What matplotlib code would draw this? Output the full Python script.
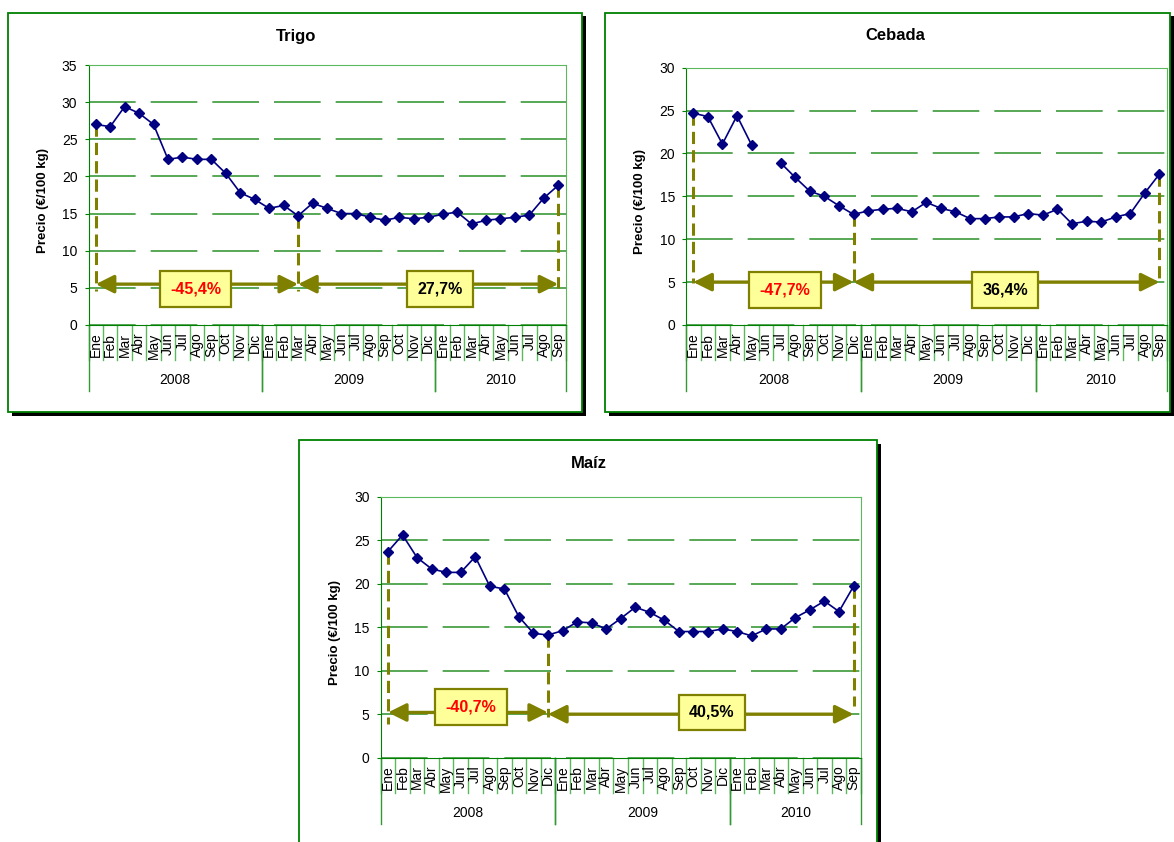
import numpy as np
import matplotlib
matplotlib.use('Agg')
import matplotlib.pyplot as plt
import matplotlib.transforms as mtransforms
from matplotlib.patches import Rectangle

plt.rcParams['font.family'] = ['Liberation Sans', 'DejaVu Sans']

W, H = 1174, 842

MESES  = ['Ene', 'Feb', 'Mar', 'Abr', 'May', 'Jun', 'Jul', 'Ago', 'Sep', 'Oct', 'Nov', 'Dic']
MONTHS = MESES * 2 + MESES[:9]
YEARS  = ['2008', '2009', '2010']
YEAR_SPAN = [(0, 11), (12, 23), (24, 32)]

trigo  = [27.0, 26.7, 29.4, 28.5, 27.0, 22.3, 22.6, 22.3, 22.3, 20.4, 17.8, 16.9,
          15.7, 16.1, 14.7, 16.4, 15.7, 15.0, 15.0, 14.5, 14.1, 14.5, 14.3, 14.5,
          14.9, 15.2, 13.6, 14.1, 14.3, 14.5, 14.8, 17.1, 18.8]
cebada = [24.7, 24.3, 21.1, 24.4, 21.0, np.nan, 18.9, 17.2, 15.6, 15.0, 13.9, 12.9,
          13.3, 13.5, 13.6, 13.2, 14.3, 13.6, 13.2, 12.4, 12.4, 12.6, 12.6, 13.0,
          12.8, 13.5, 11.8, 12.1, 12.0, 12.6, 13.0, 15.4, 17.6]
maiz   = [23.7, 25.6, 23.0, 21.7, 21.3, 21.3, 23.1, 19.7, 19.4, 16.2, 14.3, 14.1,
          14.6, 15.6, 15.5, 14.8, 16.0, 17.3, 16.7, 15.8, 14.5, 14.5, 14.5, 14.8,
          14.5, 14.0, 14.8, 14.8, 16.1, 17.0, 18.0, 16.8, 19.7]

GREEN  = '#008000'
LGREEN = '#5cb85c'
OLIVE  = '#808000'
NAVY   = '#000080'


def px_rect(x0, y0, x1, y1):
    return [x0 / W, 1 - y1 / H, (x1 - x0) / W, (y1 - y0) / H]


fig = plt.figure(figsize=(W / 100, H / 100), dpi=100)


def panel(frame, axbox, title_xy, title, values, ymax, vlines, arrows, boxes):
    # frame with shadow
    fx0, fy0, fx1, fy1 = frame
    sh = px_rect(fx0 + 4, fy0 + 4, fx1 + 4, fy1 + 4)
    fig.patches.append(Rectangle((sh[0], sh[1]), sh[2], sh[3], transform=fig.transFigure,
                                 fc='black', ec='none', zorder=-3))
    fr = px_rect(*frame)
    fig.patches.append(Rectangle((fr[0], fr[1]), fr[2], fr[3], transform=fig.transFigure,
                                 fc='white', ec=GREEN, lw=1.3, zorder=-2))
    fig.text(title_xy[0] / W, 1 - title_xy[1] / H, title, ha='center', va='center',
             fontsize=12, fontweight='bold')

    ax = fig.add_axes(px_rect(*axbox))
    hpx = axbox[3] - axbox[1]
    x = np.arange(len(values))
    ax.plot(x, values, color=NAVY, lw=1.2, marker='D', ms=5, zorder=5, clip_on=False)
    ax.set_xlim(-0.5, len(values) - 0.5)
    ax.set_ylim(0, ymax)
    ax.set_yticks(np.arange(0, ymax + 1, 5))
    ax.set_xticks([])
    ax.grid(axis='y', color='#3a9a3a', lw=1.2, linestyle=(0, (28, 9)))
    ax.set_axisbelow(True)
    for s in ['left', 'bottom']:
        ax.spines[s].set_color(GREEN)
    for s in ['top', 'right']:
        ax.spines[s].set_color(LGREEN)
    ax.tick_params(axis='y', direction='out', length=3, color=GREEN, labelsize=10, pad=5)
    ax.text(-0.096, 0.48, 'Precio (€/100 kg)', transform=ax.transAxes, rotation=90,
            ha='center', va='center', fontsize=9.5, fontweight='bold')

    tr = mtransforms.blended_transform_factory(ax.transData, ax.transAxes)
    for i, m in enumerate(MONTHS):
        ax.annotate(m, xy=(i, 0), xycoords=tr, xytext=(0, -5.5), textcoords='offset points',
                    rotation=90, ha='center', va='top', fontsize=10)
    for i in range(len(values) + 1):
        ax.plot([i - 0.5, i - 0.5], [0, -35 / hpx], transform=tr, color=LGREEN, lw=1,
                clip_on=False)
    for (a, b), yr in zip(YEAR_SPAN, YEARS):
        ax.text((a + b) / 2, -55 / hpx, yr, transform=tr, ha='center', va='center', fontsize=10)
        for e in (a - 0.5, b + 0.5):
            ax.plot([e, e], [0, -66 / hpx], transform=tr, color='#339933', lw=1, clip_on=False)

    for i, yb in vlines:
        ax.plot([i, i], [values[i], yb], color=OLIVE, lw=2.2, linestyle=(0, (4, 2)), zorder=4)
    for i0, i1, ya in arrows:
        ax.annotate('', xy=(i1, ya), xytext=(i0, ya),
                    arrowprops=dict(arrowstyle='<|-|>,head_length=1.1,head_width=0.55',
                                    color=OLIVE, lw=2.4, shrinkA=0, shrinkB=0,
                                    mutation_scale=10), zorder=6)
    for bx, by, txt, col in boxes:
        ax.text(bx, by, txt, ha='center', va='center', fontsize=11.5, fontweight='bold', color=col,
                zorder=7, bbox=dict(boxstyle='square,pad=0.65', fc='#ffff99', ec=OLIVE, lw=1.6))
    return ax


panel((7.5, 12.5, 582, 412), (88.5, 65, 565.5, 325), (296, 36), 'Trigo', trigo, 35,
      [(0, 4.6), (14, 4.6), (32, 5.0)],
      [(0, 14, 5.5), (14, 32, 5.5)],
      [(6.9, 4.85, '-45,4%', 'red'), (23.8, 4.85, '27,7%', 'black')])

panel((605, 12.5, 1170, 412), (686, 67.7, 1166.7, 325), (895, 36), 'Cebada', cebada, 30,
      [(0, 4.9), (11, 4.9), (32, 5.0)],
      [(0, 11, 5.0), (11, 32, 5.0)],
      [(6.3, 4.05, '-47,7%', 'red'), (21.4, 4.05, '36,4%', 'black')])

panel((298.5, 439.5, 877, 850), (380.7, 496.7, 860.8, 757.7), (589, 463), 'Maíz', maiz, 30,
      [(0, 3.9), (11, 4.7), (32, 5.9)],
      [(0, 11, 5.2), (11, 32, 5.0)],
      [(5.7, 5.85, '-40,7%', 'red'), (22.25, 5.2, '40,5%', 'black')])

plt.savefig('out.png', dpi=100)
plt.close()
